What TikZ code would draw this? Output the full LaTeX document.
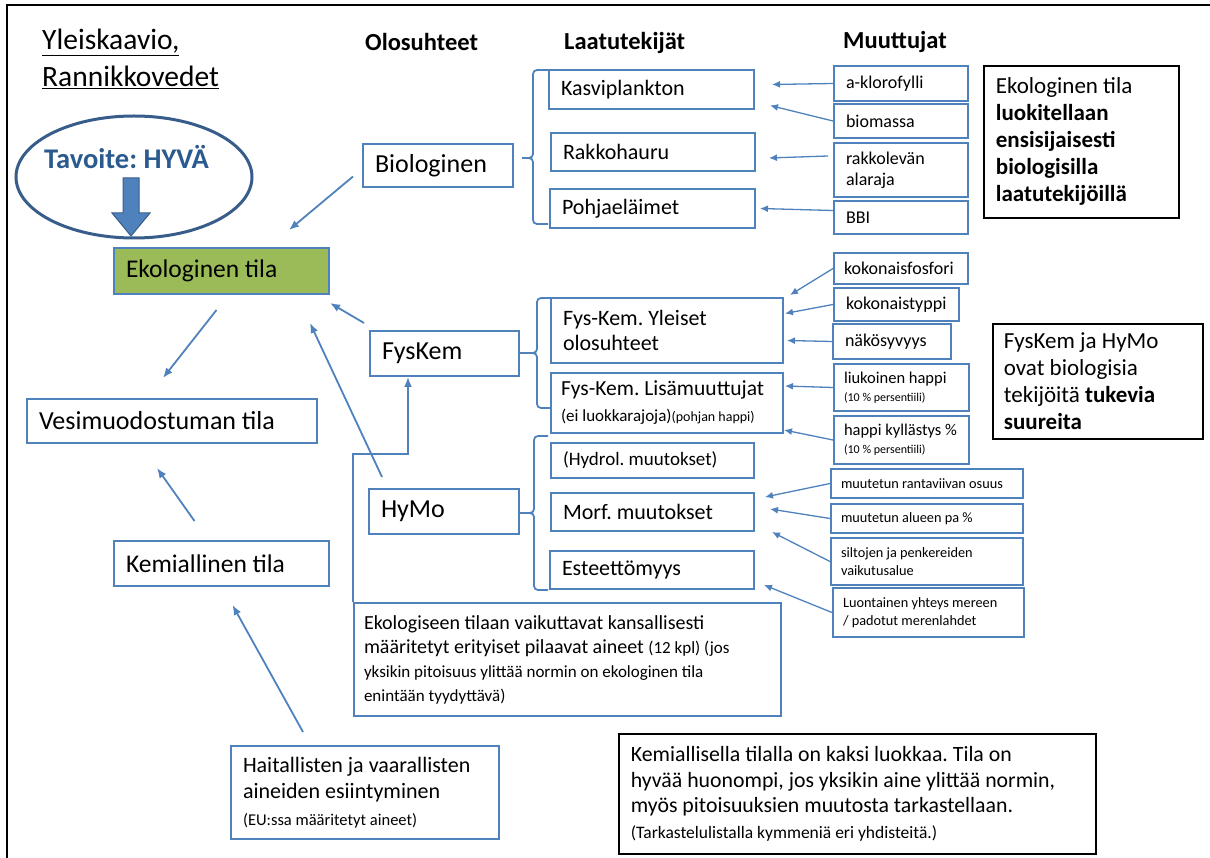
\documentclass[tikz,border=0pt]{standalone}
\usepackage{fontspec}
\setmainfont{Carlito}
\usepackage{xcolor}
\usetikzlibrary{positioning}
\usetikzlibrary{arrows.meta}
\usetikzlibrary{shapes.geometric}
\usetikzlibrary{calc}

\definecolor{boxblue}{HTML}{4F81BD}
\definecolor{darkblue}{HTML}{385D8A}
\definecolor{goalblue}{HTML}{2A5A8E}
\definecolor{ecogreen}{HTML}{9BBB59}

\begin{document}
\frenchspacing
\begin{tikzpicture}[
  x=1pt, y=-1pt, % pixel grid, y runs downwards
  box/.style={draw=boxblue, line width=2pt, anchor=north west, align=flush left, inner xsep=12pt, inner ysep=0pt},
  note/.style={box, draw=black, line width=1.8pt},
  olo/.style={box, font=\fontsize{26}{30}\selectfont},
  laatu/.style={box, font=\fontsize{22}{25}\selectfont},
  muuttuja/.style={box, font=\fontsize{18}{21}\selectfont},
  hymovar/.style={box, inner xsep=10pt, font=\fontsize{14.3}{18.5}\selectfont},
  head/.style={anchor=base west, inner sep=0pt, font=\fontsize{24.5}{28}\selectfont\bfseries},
  arrow/.style={-{Latex[length=10pt,width=8pt]}, boxblue, line width=1.8pt},
  thin arrow/.style={-{Latex[length=8pt,width=7pt]}, boxblue, line width=1.3pt},
  brace/.style={boxblue, line width=1.8pt, rounded corners=4pt}
]
\useasboundingbox (0,0) rectangle (1210,858);

% frame
\draw[line width=2pt] (7,858) -- (7,5) -- (1210,5);

% title, goal
\node[anchor=north west, inner sep=0pt, align=left, font=\fontsize{29.5}{37}\selectfont] (title) at (42,29) {\underline{Yleiskaavio,}\\\underline{Rannikkovedet}};
\node[ellipse, draw=darkblue, line width=3pt, minimum width=236pt, minimum height=122pt, inner sep=0pt] (goal) at (134,177) {};
\node[anchor=base west, inner sep=0pt, text=goalblue, font=\fontsize{28.5}{32}\selectfont\bfseries] (goaltext) at (44,169) {Tavoite: HYVÄ};
\draw[darkblue, line width=1pt, fill=boxblue] (123,178) -- (139,178) -- (139,213) -- (150,213) -- (131,236) -- (112,213) -- (123,213) -- cycle;

% headers
\node[head] (h1) at (365,51) {Olosuhteet};
\node[head] (h2) at (564,50) {Laatutekijät};
\node[head] (h3) at (843,49) {Muuttujat};

% left column
\node[olo, fill=ecogreen, font=\fontsize{25.5}{29}\selectfont, text width=191pt, minimum height=46pt] (eco) at (113,247) {Ekologinen tila};
\node[olo, text width=266pt, minimum height=44pt] (water) at (26,398) {Vesimuodostuman tila};
\node[olo, font=\fontsize{25.5}{29}\selectfont, text width=191pt, minimum height=45pt] (chem) at (113,540) {Kemiallinen tila};
\node[box, text width=244pt, minimum height=93pt, font=\fontsize{22}{26.5}\selectfont] (hazard) at (230,745) {Haitallisten ja vaarallisten\\ aineiden esiintyminen\\ {\fontsize{16.5}{26.5}\selectfont (EU:ssa määritetyt aineet)}};

% olosuhteet
\node[olo, text width=126pt, minimum height=43pt] (bio) at (362,143) {Biologinen};
\node[olo, text width=125pt, minimum height=45pt] (fyskem) at (369,330) {FysKem};
\node[olo, text width=126pt, minimum height=45pt] (hymo) at (368,488) {HyMo};

% laatutekijat
\node[laatu, text width=181pt, minimum height=39pt] (kasvi) at (548,69) {Kasviplankton};
\node[laatu, text width=180pt, minimum height=38pt] (rakko) at (550,132) {Rakkohauru};
\node[laatu, text width=181pt, minimum height=39pt] (pohja) at (549,188) {Pohjaeläimet};
\node[laatu, text width=208pt, minimum height=65pt] (yleiset) at (550,297) {Fys-Kem. Yleiset\\ olosuhteet};
\node[laatu, inner xsep=10pt, text width=212pt, minimum height=60pt, font=\fontsize{21.5}{26}\selectfont] (lisa) at (550,372) {Fys-Kem. Lisämuuttujat\\ {\fontsize{17}{26}\selectfont(ei luokkarajoja)}{\fontsize{14}{26}\selectfont(pohjan happi)}};
\node[laatu, font=\fontsize{19}{25}\selectfont, text width=179pt, minimum height=35pt] (hydrol) at (550,442) {(Hydrol. muutokset)};
\node[laatu, text width=179pt, minimum height=38pt] (morf) at (550,492) {Morf. muutokset};
\node[laatu, text width=180pt, minimum height=38pt] (estee) at (549,550) {Esteettömyys};
\node[box, inner xsep=10pt, text width=407pt, minimum height=113pt, font=\fontsize{20}{24}\selectfont] (natpoll) at (353,602) {Ekologiseen tilaan vaikuttavat kansallisesti\\ määritetyt erityiset pilaavat aineet {\fontsize{17}{24}\selectfont (12 kpl) (jos}\\ {\fontsize{17}{24}\selectfont yksikin pitoisuus ylittää normin on ekologinen tila}\\ {\fontsize{17}{24}\selectfont enintään tyydyttävä)}};

% muuttujat
\node[muuttuja, text width=110pt, minimum height=35pt] (klorofylli) at (833,65) {a-klorofylli};
\node[muuttuja, text width=110pt, minimum height=34pt] (biomassa) at (833,103) {biomassa};
\node[muuttuja, text width=110pt, minimum height=54pt] (rakkoleva) at (833,142) {rakkolevän\\ alaraja};
\node[muuttuja, text width=110pt, minimum height=33pt] (bbi) at (833,200) {BBI};
\node[muuttuja, inner xsep=10pt, text width=114pt, minimum height=31pt] (fosfori) at (833,252) {kokonaisfosfori};
\node[muuttuja, text width=101pt, minimum height=33pt] (typpi) at (833,287) {kokonaistyppi};
\node[muuttuja, text width=94pt, minimum height=35pt] (nako) at (832,323) {näkösyvyys};
\node[muuttuja, inner xsep=10pt, text width=115pt, minimum height=47pt, font=\fontsize{16.5}{18}\selectfont] (liuk) at (833,363) {liukoinen happi\\ {\fontsize{12}{18}\selectfont (10 \% persentiili)}};
\node[muuttuja, inner xsep=10pt, text width=115pt, minimum height=48pt, font=\fontsize{16.5}{18}\selectfont] (kyll) at (833,415) {happi kyllästys \%\\ {\fontsize{12}{18}\selectfont (10 \% persentiili)}};
\node[hymovar, text width=172pt, minimum height=29pt] (ranta) at (830,468) {muutetun rantaviivan osuus};
\node[hymovar, text width=172pt, minimum height=29pt] (alue) at (830,503) {muutetun alueen pa \%};
\node[hymovar, text width=172pt, minimum height=47pt] (silta) at (830,537) {siltojen ja penkereiden\\ vaikutusalue};
\node[hymovar, text width=171pt, minimum height=49pt] (luont) at (832,587) {Luontainen yhteys mereen\\ / padotut merenlahdet};

% notes
\node[note, text width=171pt, minimum height=152pt, font=\fontsize{23}{27}\selectfont] (note1) at (983,65) {Ekologinen tila\\ \textbf{luokitellaan}\\ \textbf{ensisijaisesti}\\ \textbf{biologisilla}\\ \textbf{laatutekijöillä}};
\node[note, inner xsep=11pt, text width=188pt, minimum height=115pt, font=\fontsize{23}{27}\selectfont] (note2) at (992,323) {FysKem ja HyMo\\ ovat biologisia\\ tekijöitä \textbf{tukevia}\\ \textbf{suureita}};
\node[note, text width=453pt, minimum height=120pt, font=\fontsize{21.8}{25.5}\selectfont] (note3) at (618,733) {Kemiallisella tilalla on kaksi luokkaa. Tila on\\ hyvää huonompi, jos yksikin aine ylittää normin,\\ myös pitoisuuksien muutosta tarkastellaan.\\ {\fontsize{17.5}{25.5}\selectfont (Tarkastelulistalla kymmeniä eri yhdisteitä.)}};

% braces
\draw[brace] (548,70) -| (533,158) -- (522,158);
\draw[brace] (522,158) -| (533,224) -- (548,224);
\draw[brace] (550,298) -| (537,353) -- (520,353);
\draw[brace] (520,353) -| (537,408) -- (550,408);
\draw[brace] (548,436) -| (534,513) -- (520,513);
\draw[brace] (520,513) -| (534,590) -- (548,590);

% connectors, left side
\draw[arrow] ($(bio.west)+(-9,11)$) -- ($(eco.north east)+(-41,-17)$);
\draw[arrow] ($(fyskem.north west)+(-5,-7)$) -- ($(eco.south east)+(0,8)$);
\draw[arrow] ($(hymo.north west)+(14,-11)$) -- ($(eco.south east)+(-20,28)$);
\draw[arrow] ($(eco.south)+(-5,15)$) -- ($(water.north)+(-9,-20)$);
\draw[arrow] ($(chem.north)+(-27,-19)$) -- ($(water.south)+(-15,24)$);
\draw[arrow] ($(hazard.north)+(-62,-13)$) -- ($(chem.south)+(11,18)$);
\coordinate (elbow) at (408,454);
\draw[arrow] (natpoll.north west) |- (elbow) -- (elbow |- fyskem.south);

% connectors, muuttujat
\draw[thin arrow] (klorofylli.west) -- ($(kasvi.east)+(17,-5)$);
\draw[thin arrow] (biomassa.west) -- ($(kasvi.east)+(15,16)$);
\draw[thin arrow] ($(rakkoleva.west)+(-5,-14)$) -- ($(rakko.east)+(13,6)$);
\draw[thin arrow] ($(bbi.west)+(0,-7)$) -- ($(pohja.east)+(4,0)$);
\draw[thin arrow] (fosfori.west) -- ($(yleiset.north east)+(6,-2)$);
\draw[thin arrow] (typpi.west) -- ($(yleiset.east)+(1,-17)$);
\draw[thin arrow] (nako.west) -- ($(yleiset.east)+(3,10)$);
\draw[thin arrow] (liuk.west) -- ($(lisa.east)+(1,-17)$);
\draw[thin arrow] (kyll.west) -- ($(lisa.south east)+(0,-4)$);
\draw[thin arrow] (ranta.west) -- ($(morf.north east)+(10,5)$);
\draw[thin arrow] (alue.west) -- ($(morf.east)+(15,-3)$);
\draw[thin arrow] (silta.west) -- ($(morf.south east)+(17,0)$);
\draw[thin arrow] (luont.west) -- ($(estee.south east)+(9,-5)$);
\end{tikzpicture}
\end{document}
